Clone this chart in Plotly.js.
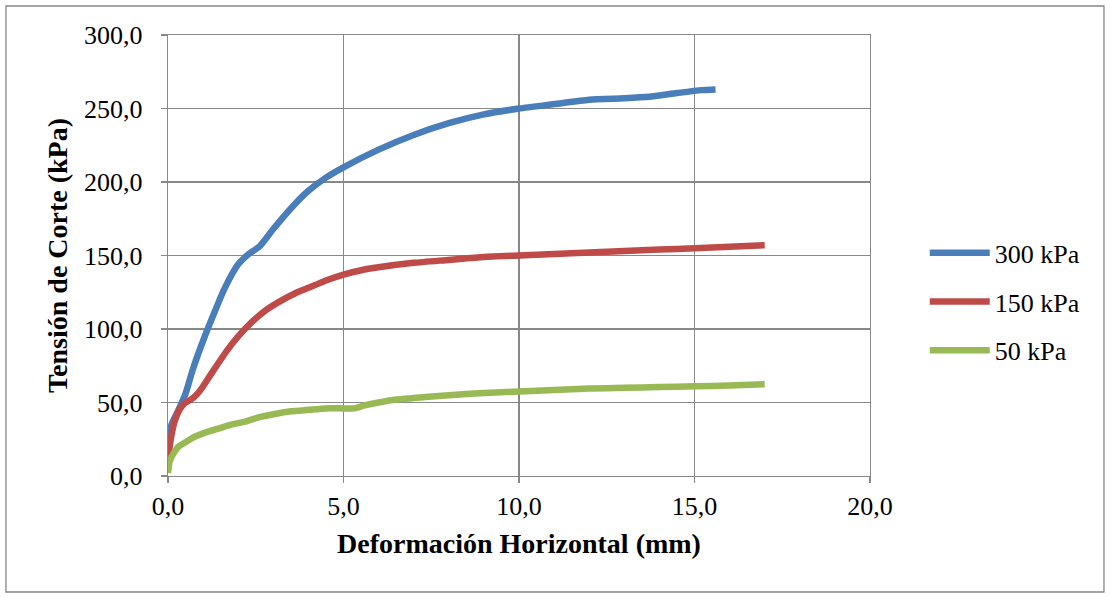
<!DOCTYPE html>
<html><head><meta charset="utf-8">
<script src="https://cdn.plot.ly/plotly-3.0.1.min.js"></script>
<style>html,body{margin:0;padding:0;background:#fff}#chart{width:1111px;height:597px}</style>
</head><body><div id="chart"></div>
<script>
const seriesNames = ["300 kPa", "150 kPa", "50 kPa"];
const seriesColors = ["#4A7EBB", "#BE4B48", "#98B954"];

const x300 = [0, 0.1, 0.3, 0.5, 0.7, 1.0, 1.3, 1.6, 2.0, 2.3, 2.6, 3.0, 3.5, 4.0, 4.5, 5.0, 6.0, 7.0, 8.0, 9.0, 10.0, 11.0, 12.0, 13.0, 13.7, 14.5, 15.2, 15.6];
const y300 = [22, 35, 45, 56, 72, 92, 110, 127, 144, 151, 156, 168, 182, 194, 203, 210, 222, 232, 240, 246, 250, 253, 256, 257, 258, 260.5, 262.5, 263];

const x150 = [0, 0.1, 0.2, 0.35, 0.5, 0.65, 0.8, 1.0, 1.3, 1.7, 2.0, 2.4, 2.8, 3.2, 3.6, 4.0, 4.5, 5.0, 5.5, 6.0, 7.0, 8.0, 9.0, 10.0, 11.0, 12.0, 13.0, 14.0, 15.0, 16.0, 17.0];
const y150 = [12, 28, 38, 46, 50, 52, 55, 61, 72, 86, 95, 105, 113, 119, 124, 128, 133, 137, 140, 142, 145, 147, 149, 150, 151, 152, 153, 154, 155, 156, 157];

const x50 = [0, 0.05, 0.15, 0.3, 0.5, 0.7, 1.0, 1.4, 1.8, 2.2, 2.6, 3.0, 3.5, 4.0, 4.5, 5.0, 5.3, 5.6, 6.0, 6.5, 7.0, 8.0, 9.0, 10.0, 11.0, 12.0, 13.0, 14.0, 15.0, 16.0, 17.0];
const y50 = [2, 10, 15, 20, 23, 26, 29, 32, 35, 37, 40, 42, 44, 45, 46, 46, 46, 48, 50, 52, 53, 55, 56.5, 57.5, 58.5, 59.5, 60, 60.5, 61, 61.5, 62.5];

const xs = [x300, x150, x50], ys = [y300, y150, y50];
const font = "Liberation Serif, Times New Roman, serif";

const traces = xs.map((x, i) => ({
  x: x, y: ys[i], type: "scatter", mode: "lines", name: seriesNames[i],
  legendgroup: "g" + i,
  line: {color: seriesColors[i], width: 6.5, shape: "spline", smoothing: 0.6}
}));

const axisCommon = {
  showgrid: true, gridcolor: "#888888", gridwidth: 1.3,
  showline: true, linecolor: "#888888", linewidth: 1.3, mirror: true,
  ticks: "outside", ticklen: 6, tickcolor: "#888888", tickwidth: 1.3,
  tickformat: ".1f", zeroline: false,
  tickfont: {family: font, size: 26, color: "#000"}
};

const layout = {
  width: 1111, height: 597,
  separators: ",.",
  paper_bgcolor: "#fff", plot_bgcolor: "#fff",
  margin: {l: 168, r: 241, t: 35, b: 121},
  showlegend: true,
  legend: {x: 1.078, y: 0.395, xanchor: "left", yanchor: "middle",
    font: {family: font, size: 26, color: "#000"}, itemwidth: 60, tracegroupgap: 12},
  xaxis: Object.assign({}, axisCommon, {range: [0, 20], dtick: 5, ticklabelstandoff: 0,
    title: {text: "<b>Deformación Horizontal (mm)</b>", font: {family: font, size: 28, color: "#000"}, standoff: 14}}),
  yaxis: Object.assign({}, axisCommon, {range: [0, 300], dtick: 50, ticklabelstandoff: 13,
    title: {text: "<b>Tensión de Corte (kPa)</b>", font: {family: font, size: 28, color: "#000"}, standoff: 8}}),
  shapes: [{type: "rect", xref: "paper", yref: "paper",
    x0: -0.2308, x1: 1.3333, y0: -0.263, y1: 1.0658,
    line: {color: "#868686", width: 1.3}, fillcolor: "rgba(0,0,0,0)", layer: "below"}]
};

Plotly.newPlot("chart", traces, layout, {displayModeBar: false, staticPlot: true});
</script></body></html>
